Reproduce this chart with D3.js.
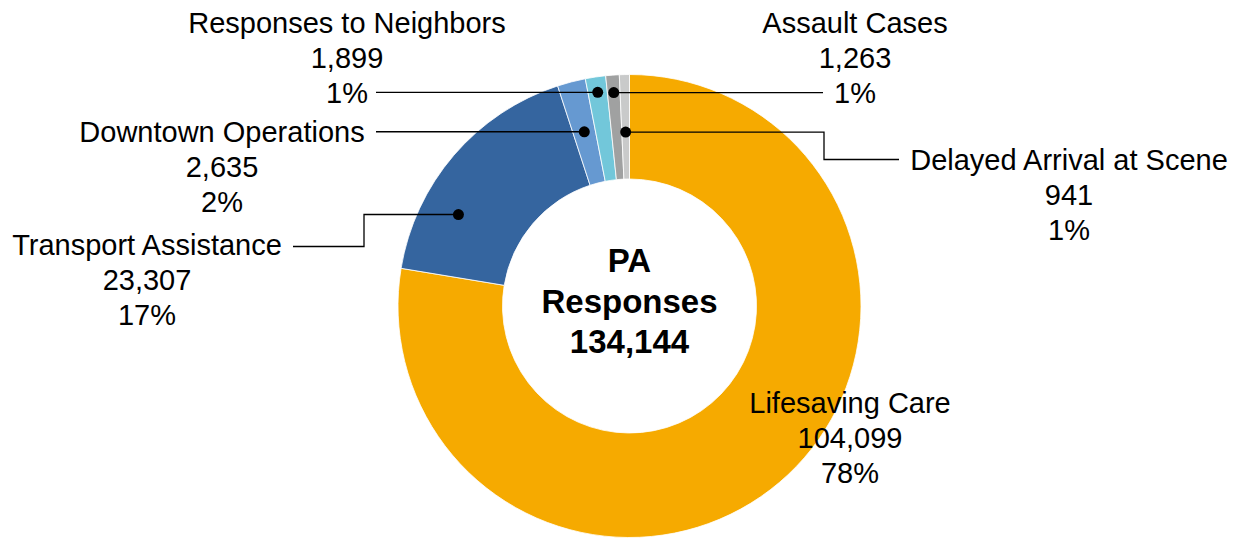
<!DOCTYPE html>
<html>
<head>
<meta charset="utf-8">
<script src="https://cdn.jsdelivr.net/npm/d3@7"></script>
<style>
  body { margin: 0; background: #fff; }
  svg text { font-family: "Liberation Sans", Arial, sans-serif; fill: #000; }
</style>
</head>
<body>
<svg width="1240" height="538"></svg>
<script>
const CATEGORIES = [
  "Lifesaving Care",
  "Transport Assistance",
  "Downtown Operations",
  "Responses to Neighbors",
  "Assault Cases",
  "Delayed Arrival at Scene"
];
const VALUES = [104099, 23307, 2635, 1899, 1263, 941];
const PERCENT_LABELS = ["78%", "17%", "2%", "1%", "1%", "1%"];
const COLORS = ["#f6aa00", "#35659f", "#6699d1", "#72c7da", "#a0a1a1", "#c9caca"];
const CENTER_LINES = ["PA", "Responses", "134,144"];

// label layout: text centre, first baseline, leader path (relative to dot), dot placement
const LABELS = [
  { x: 850, y: 413, dot: null },
  { x: 147, y: 255, dot: { r: 194, f: 0.3 }, path: d => [[d[0], d[1]], [364, d[1]], [364, 246.5], [293, 246.5]] },
  { x: 222, y: 142, dot: { r: 180, f: 0.5 }, path: d => [[d[0], d[1]], [376, d[1]]] },
  { x: 347, y: 33, dot: { r: 216, f: 0.5 }, path: d => [[d[0], d[1]], [376, d[1]]] },
  { x: 855, y: 33, dot: { r: 214, f: 0.5 }, path: d => [[d[0], d[1]], [823, d[1]]] },
  { x: 1069, y: 170, dot: { r: 174, f: 0.5 }, path: d => [[d[0], d[1]], [824, d[1]], [824, 159.5], [899, 159.5]] }
];

const main = function() {
  const cx = 629.5;
  const cy = 306;
  const outer = 231.5;
  const inner = 127;
  const svg = d3.select("svg");
  const fmt = d3.format(",");

  const data = CATEGORIES.map((c, i) => ({ name: c, value: VALUES[i], pct: PERCENT_LABELS[i], color: COLORS[i], label: LABELS[i] }));

  const pie = d3.pie().sort(null).value(d => d.value);
  const arc = d3.arc().innerRadius(inner).outerRadius(outer);
  const arcs = pie(data);

  const ground = svg.append("g").attr("transform", `translate(${cx}, ${cy})`);

  ground
    .selectAll("path")
    .data(arcs)
    .enter()
    .append("path")
    .attr("d", arc)
    .attr("fill", d => d.data.color)
    .attr("stroke", "#fff")
    .attr("stroke-width", 0.8);

  // leader lines and dots
  const line = d3.line();
  arcs.forEach(a => {
    const lb = a.data.label;
    if (!lb.dot) return;
    const ang = a.startAngle + (a.endAngle - a.startAngle) * lb.dot.f;
    const px = cx + lb.dot.r * Math.sin(ang);
    const py = cy - lb.dot.r * Math.cos(ang);
    svg.append("path")
      .attr("d", line(lb.path([px, py])))
      .attr("fill", "none")
      .attr("stroke", "#000")
      .attr("stroke-width", 1.3);
    svg.append("circle")
      .attr("cx", px)
      .attr("cy", py)
      .attr("r", 5.5)
      .attr("fill", "#000");
  });

  // labels
  arcs.forEach(a => {
    const lb = a.data.label;
    const t = svg.append("text")
      .attr("text-anchor", "middle")
      .attr("font-size", 29);
    [a.data.name, fmt(a.data.value), a.data.pct].forEach((s, i) => {
      t.append("tspan").attr("x", lb.x).attr("y", lb.y + i * 35).text(s);
    });
  });

  // centre title
  const ct = svg.append("text")
    .attr("text-anchor", "middle")
    .attr("font-size", 33)
    .attr("font-weight", "bold");
  CENTER_LINES.forEach((s, i) => {
    ct.append("tspan").attr("x", cx).attr("y", 272 + i * 40.5).text(s);
  });
};

window.onload = main;
</script>
</body>
</html>
